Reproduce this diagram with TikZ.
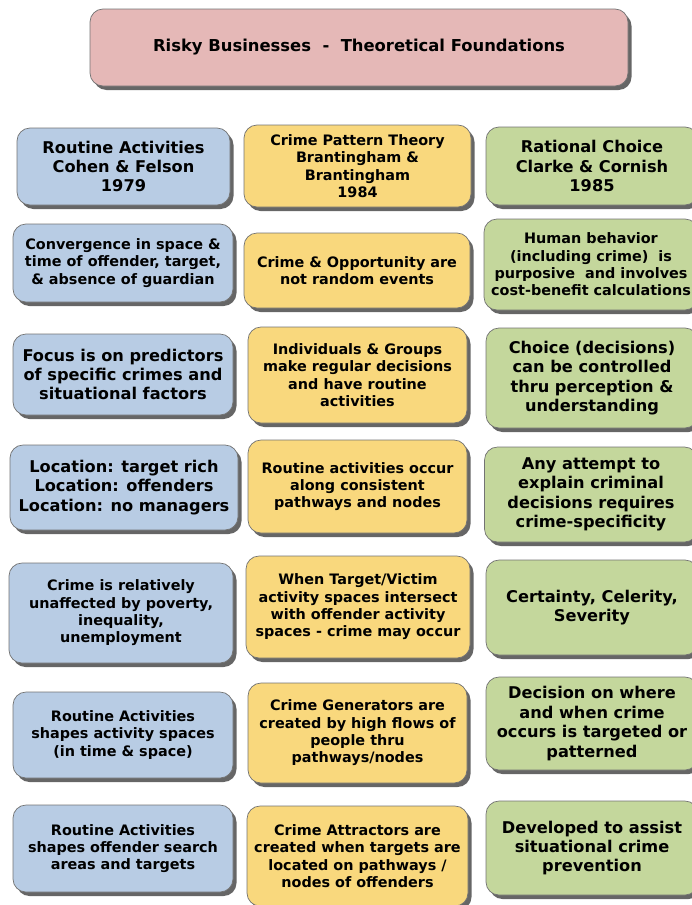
\documentclass[tikz,border=0pt]{standalone}
\usepackage{fontspec}
\setmainfont{DejaVu Sans}
\usepackage{xcolor}
\usepackage{tikz}
\usetikzlibrary{shadows}
\definecolor{titlepink}{HTML}{E5B8B7}
\definecolor{rablue}{HTML}{B8CCE4}
\definecolor{cpyellow}{HTML}{F9D87D}
\definecolor{rcgreen}{HTML}{C4D79C}

\begin{document}
\begin{tikzpicture}[x=1pt,y=-1pt,
  card/.style={draw=black!55,line width=0.7pt,rounded corners=13pt,align=center,inner sep=2pt,
    drop shadow={shadow xshift=3.5pt,shadow yshift=-4pt,fill=black!80,opacity=0.75}},
  big/.style={font=\fontsize{16.2}{19.4}\selectfont\bfseries},
  small/.style={font=\fontsize{14.4}{17.3}\selectfont\bfseries},
  ra/.style={card,fill=rablue},
  cp/.style={card,fill=cpyellow},
  rc/.style={card,fill=rcgreen}]
\useasboundingbox (0,0) rectangle (692,905);
\node[card,fill=titlepink,minimum width=538pt,minimum height=77pt,font=\fontsize{16.4}{19.7}\selectfont\bfseries] (title) at (359,47.5) {Risky Businesses\ \ -\ \ Theoretical Foundations};

\node[ra,big,minimum width=213pt,minimum height=77pt] (ra1) at (123.5,166.5) {Routine Activities\\Cohen \& Felson\\1979};
\node[ra,small,minimum width=220pt,minimum height=78pt] (ra2) at (123,263) {Convergence in space \&\\time of offender, target,\\\& absence of guardian};
\node[ra,big,minimum width=220pt,minimum height=81pt] (ra3) at (123,374.5) {Focus is on predictors\\of specific crimes and\\situational factors};
\node[ra,big,minimum width=228pt,minimum height=85pt] (ra4) at (124,487.5) {Location: target rich\\Location: offenders\\Location: no managers};
\node[ra,small,minimum width=224pt,minimum height=100pt] (ra5) at (121,613) {Crime is relatively\\unaffected by poverty,\\inequality,\\unemployment};
\node[ra,small,minimum width=220pt,minimum height=86pt] (ra6) at (123,735) {Routine Activities\\shapes activity spaces\\(in time \& space)};
\node[ra,small,minimum width=220pt,minimum height=87pt] (ra7) at (123,848.5) {Routine Activities\\shapes offender search\\areas and targets};

\node[cp,small,minimum width=227pt,minimum height=82pt] (cp1) at (357.5,166) {Crime Pattern Theory\\Brantingham \&\\Brantingham\\1984};
\node[cp,small,minimum width=226pt,minimum height=75pt] (cp2) at (357,270.5) {Crime \& Opportunity are\\not random events};
\node[cp,small,minimum width=219pt,minimum height=96pt] (cp3) at (357.5,375) {Individuals \& Groups\\make regular decisions\\and have routine\\activities};
\node[cp,small,minimum width=219pt,minimum height=93pt] (cp4) at (357.5,486.5) {Routine activities occur\\along consistent\\pathways and nodes};
\node[cp,small,minimum width=224pt,minimum height=102pt] (cp5) at (358,607) {When Target/Victim\\activity spaces intersect\\with offender activity\\spaces - crime may occur};
\node[cp,small,minimum width=219pt,minimum height=100pt] (cp6) at (357.5,733) {Crime Generators are\\created by high flows of\\people thru\\pathways/nodes};
\node[cp,small,minimum width=221pt,minimum height=100pt] (cp7) at (357.5,856) {Crime Attractors are\\created when targets are\\located on pathways /\\nodes of offenders};

\node[rc,big,minimum width=212pt,minimum height=78pt] (rc1) at (592,166) {Rational Choice\\Clarke \& Cornish\\1985};
\node[rc,small,minimum width=214pt,minimum height=91pt] (rc2) at (591,264.5) {Human behavior\\(including crime)\ \ is\\purposive\ \ and involves\\cost-benefit calculations};
\node[rc,big,minimum width=212pt,minimum height=100pt] (rc3) at (592,378) {Choice (decisions)\\can be controlled\\thru perception \&\\understanding};
\node[rc,big,minimum width=213pt,minimum height=95pt] (rc4) at (591,494.5) {Any attempt to\\explain criminal\\decisions requires\\crime-specificity};
\node[rc,big,minimum width=212pt,minimum height=95pt] (rc5) at (592,607.5) {Certainty, Celerity,\\Severity};
\node[rc,big,minimum width=212pt,minimum height=93pt] (rc6) at (592,723.5) {Decision on where\\and when crime\\occurs is targeted or\\patterned};
\node[rc,big,minimum width=212pt,minimum height=94pt] (rc7) at (592,848) {Developed to assist\\situational crime\\prevention};
\end{tikzpicture}
\end{document}
